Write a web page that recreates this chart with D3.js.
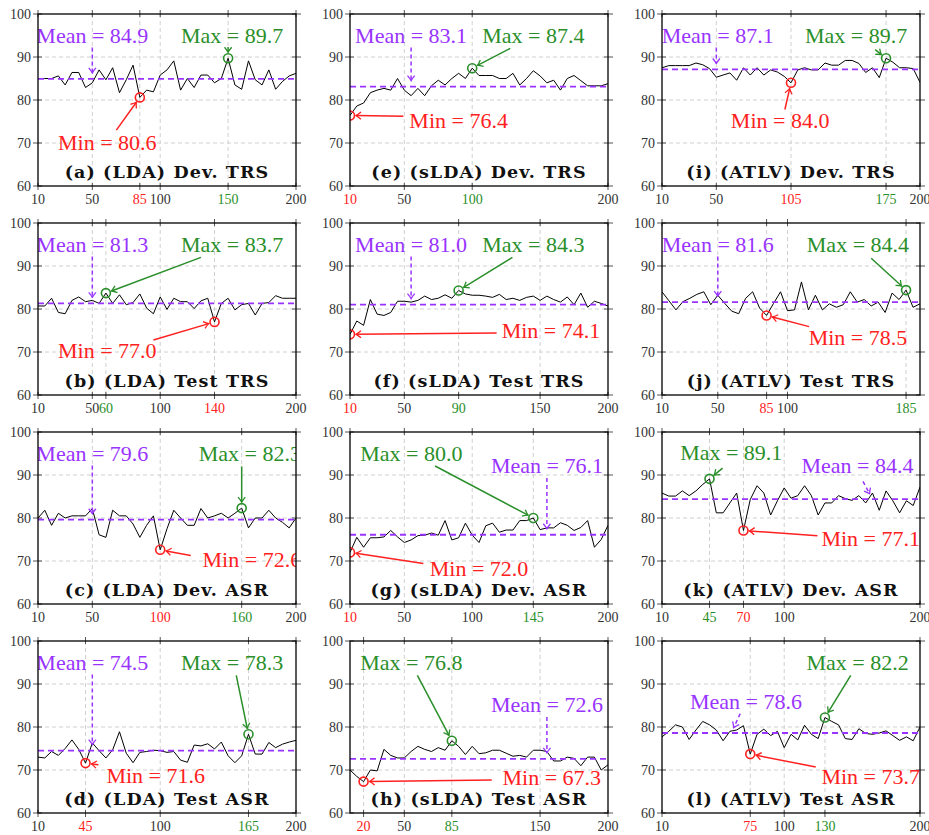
<!DOCTYPE html>
<html>
<head>
<meta charset="utf-8">
<script src="https://cdn.jsdelivr.net/npm/d3@7"></script>
<style>
body{margin:0;background:#fff}
text{font-family:"Liberation Serif",serif}
</style>
</head>
<body>
<svg id="chart" width="929" height="835"></svg>
<script>
// x positions (number of topics)
var epochs = [10,15,20,25,30,35,40,45,50,55,60,65,70,75,80,85,90,95,100,105,110,115,120,125,130,135,140,145,150,155,160,165,170,175,180,185,190,195,200]

var ldaDevTrs   = [85.0,85.0,85.0,85.6,83.5,86.4,86.4,82.9,84.0,87.0,84.7,87.5,81.7,84.7,88.1,80.6,82.3,81.9,85.8,87.0,89.1,82.3,85.0,82.9,85.8,85.8,84.0,85.0,89.7,83.5,82.5,89.1,84.7,83.5,87.0,82.5,84.3,85.6,86.2]
var ldaTestTrs  = [80.7,80.7,82.5,79.2,78.9,82.0,82.8,81.7,82.0,81.3,83.7,81.3,83.3,81.0,81.5,83.5,80.2,78.9,82.8,79.9,82.5,81.7,81.7,80.1,81.9,82.5,77.0,81.3,82.5,79.8,81.0,81.3,78.6,81.3,81.5,83.1,82.5,82.5,82.5]
var ldaDevAsr   = [80.0,81.8,78.3,81.1,80.0,80.5,80.5,80.5,82.2,76.1,75.5,81.8,80.5,80.5,78.6,75.5,78.3,80.5,72.6,77.5,81.8,80.0,78.3,78.3,82.2,80.0,80.5,81.1,80.0,81.1,82.3,77.7,80.0,80.0,81.8,80.0,79.0,77.7,80.0]
var ldaTestAsr  = [73.0,72.8,74.3,73.4,75.0,77.0,74.8,71.6,76.3,74.5,72.8,74.7,78.9,73.9,71.7,74.1,74.3,74.6,74.5,74.1,74.3,72.3,71.8,75.8,75.6,76.1,74.9,76.5,73.3,71.7,73.3,78.3,73.7,73.7,76.4,75.2,76.0,76.5,76.9]
var sldaDevTrs  = [76.4,78.6,79.3,81.7,82.3,82.7,82.3,85.0,82.3,81.0,82.7,81.0,83.3,84.6,83.5,85.0,86.2,85.0,87.4,85.7,85.7,85.7,85.0,85.0,86.2,83.5,85.0,86.8,85.6,84.0,84.6,82.3,85.0,85.7,84.5,83.3,83.3,83.3,83.8]
var sldaTestTrs = [74.1,77.2,76.2,82.2,78.8,78.5,79.2,81.8,81.8,81.6,82.0,83.0,82.2,82.5,83.3,82.5,84.3,83.5,83.2,83.2,83.0,82.7,83.4,82.2,82.5,82.0,82.7,83.0,82.0,83.0,82.2,81.6,82.8,81.0,83.7,80.4,81.8,81.3,80.7]
var sldaDevAsr  = [72.0,75.5,73.2,75.4,75.4,75.6,77.1,75.6,74.3,74.9,75.9,76.0,76.5,76.0,79.4,74.9,75.4,78.8,76.0,74.3,78.2,78.8,76.7,77.2,77.2,79.4,79.4,80.0,77.3,77.7,77.7,78.9,78.3,77.1,77.8,79.4,73.2,75.0,78.3]
var sldaTestAsr = [70.0,68.5,67.3,70.0,69.8,74.8,73.4,72.8,72.8,74.3,75.5,74.8,74.3,75.2,74.6,76.8,75.5,73.6,75.5,73.8,74.0,74.6,74.6,73.9,73.2,73.4,73.0,74.6,74.6,74.3,72.1,72.1,73.0,72.7,71.0,73.0,73.0,70.0,71.2]
var atlvDevTrs  = [87.5,88.0,88.0,88.0,88.0,88.6,88.2,87.3,85.3,85.8,86.3,84.6,87.5,85.8,87.5,85.8,87.0,86.5,85.5,84.0,87.0,87.5,87.0,87.0,88.6,88.1,88.1,89.2,89.2,88.5,86.4,87.5,85.2,89.7,88.8,87.5,87.5,87.3,84.1]
var atlvTestTrs = [84.0,81.9,79.8,81.7,82.5,83.4,84.0,81.0,83.2,81.3,79.5,78.9,82.5,84.0,80.2,78.5,81.3,84.0,79.6,79.8,86.3,79.8,83.2,79.8,81.2,80.4,81.0,84.0,81.6,82.2,80.7,81.6,79.2,83.7,82.2,84.4,80.4,81.2]
var atlvDevAsr  = [85.8,85.1,85.1,86.3,85.2,86.3,87.8,89.1,81.2,81.2,83.5,85.8,77.1,84.3,87.5,85.8,80.7,84.0,87.0,84.6,85.2,87.5,85.2,80.7,83.5,83.5,85.2,84.5,84.1,85.2,83.5,85.8,81.8,86.3,84.0,81.2,84.0,82.9,87.2]
var atlvTestAsr = [77.7,79.0,80.5,80.0,77.1,79.3,81.3,80.5,79.3,76.8,79.0,79.3,80.3,73.7,78.3,79.5,78.0,79.0,75.2,78.3,77.0,80.4,78.3,77.3,82.2,81.3,80.5,77.3,77.1,79.6,78.5,78.3,78.6,79.1,78.0,76.9,77.7,76.8,80.0]

var series = [ldaDevTrs, ldaTestTrs, ldaDevAsr, ldaTestAsr,
              sldaDevTrs, sldaTestTrs, sldaDevAsr, sldaTestAsr,
              atlvDevTrs, atlvTestTrs, atlvDevAsr, atlvTestAsr]

var titles = ['(a) (LDA) Dev. TRS','(b) (LDA) Test TRS','(c) (LDA) Dev. ASR','(d) (LDA) Test ASR',
              '(e) (sLDA) Dev. TRS','(f) (sLDA) Test TRS','(g) (sLDA) Dev. ASR','(h) (sLDA) Test ASR',
              '(i) (ATLV) Dev. TRS','(j) (ATLV) Test TRS','(k) (ATLV) Dev. ASR','(l) (ATLV) Test ASR']

var means     = [84.9, 81.3, 79.6, 74.5, 83.1, 81.0, 76.1, 72.6, 87.1, 81.6, 84.4, 78.6]
var minPoints = [[85,80.6],[140,77.0],[100,72.6],[45,71.6],[10,76.4],[10,74.1],[10,72.0],[20,67.3],[105,84.0],[85,78.5],[70,77.1],[75,73.7]]
var maxPoints = [[150,89.7],[60,83.7],[160,82.3],[165,78.3],[100,87.4],[90,84.3],[145,80.0],[85,76.8],[175,89.7],[185,84.4],[45,89.1],[130,82.2]]

var baseTicks = [[10,50,100,200],[10,50,100,200],[10,50,200],[10,100,200],
                 [50,200],[50,150,200],[50,100,200],[50,150,200],
                 [10,50,200],[10,50,100],[10,100,200],[10,100,200]]
var yTicks = [60,70,80,90,100]
var gridY = [70,80,90]

// annotation placement, in data units: label x, label baseline, arrow start x, y (+ target x for mean)
var meanNotes = [[50,93.2,50,92.2,50],[50,93.2,50,92.2,50],[50,93.3,50,92.2,50],[50,93.3,50,92.2,50],
                 [55,93.2,55,92.2,55],[55,93.2,55,92.2,55],[155,90.4,155,89.3,155],[155,83.5,155,82.3,155],
                 [51,93.2,50,92.2,50],[50,93.2,50,92.2,50],[154,90.4,158,88.5,165],[71.8,84.3,67.6,83.1,61]]
var maxNotes  = [[153,93.2,150,92.3],[153,93.2,130,92.0],[166,93.3,160,92.0],[153,93.3,156,92.0],
                 [145,93.2,128,92.0],[145,93.2,129.6,92.0],[55.2,93.3,72.7,92.1],[55.2,93.3,59.6,92.0],
                 [153,93.2,167,91.7],[150.5,93.2,160,91.8],[61,93.5,54.6,91.6],[154,93.3,149,92.0]]
var minNotes  = [[61,68.4,67.7,73.0],[61,68.5,95,72.8],[167.5,68.5,122.5,71.3],[96.7,67.0,54.5,71.2],
                 [90,73.4,49.3,76.2],[158,73.2,118,74.4],[105,66.6,64,69.4],[158.6,66.6,114.4,67.7],
                 [97,73.4,100.5,77.8],[150.5,71.65,115.5,75.9],[163.7,73.4,124.5,75.9],[163.7,66.8,123.2,70.7]]

var W = 258, H = 172
var colLeft = [38, 350, 662]
var rowTop = [14, 223, 432, 641]
var purple = '#9933ff', green = '#2a8f2a', red = '#ff2020'

var svg = d3.select('#chart')
var defs = svg.append('defs')

;[['mean',purple],['max',green],['min',red]].forEach(function(m){
  defs.append('marker').attr('id','head-'+m[0])
    .attr('markerUnits','userSpaceOnUse')
    .attr('viewBox','-7 -5 8 10').attr('markerWidth',8).attr('markerHeight',10)
    .attr('refX',0).attr('refY',0).attr('orient','auto')
    .append('path').attr('d','M-5,-3.6 Q-1.8,-0.9 0,0 Q-1.8,0.9 -5,3.6')
    .attr('fill','none').attr('stroke',m[1]).attr('stroke-width',1.3)
})

function arrow(g, x0, y0, x1, y1, gap, color, kind, dash){
  var dx = x1-x0, dy = y1-y0, len = Math.sqrt(dx*dx+dy*dy)
  var ex = x1 - dx/len*gap, ey = y1 - dy/len*gap
  g.append('line')
    .attr('x1',x0).attr('y1',y0).attr('x2',ex).attr('y2',ey)
    .attr('stroke',color).attr('stroke-width',1.5)
    .attr('stroke-dasharray',dash ? '4,3' : null)
    .attr('marker-end','url(#head-'+kind+')')
}

series.forEach(function(vals, p){
  var col = Math.floor(p/4), row = p%4
  var g = svg.append('g').attr('transform','translate('+colLeft[col]+','+rowTop[row]+')')
  var xs = epochs.slice(0, vals.length)
  var x = d3.scaleLinear().domain([10, xs[xs.length-1]]).range([0, W])
  var y = d3.scaleLinear().domain([60, 100]).range([H, 0])
  var mn = minPoints[p], mx = maxPoints[p]
  var ticks = baseTicks[p].concat([mn[0], mx[0]]).sort(d3.ascending)

  defs.append('clipPath').attr('id','clip'+p)
    .append('rect').attr('width',W).attr('height',H)

  // grid
  g.selectAll('line.gy').data(gridY).enter().append('line').attr('class','gy')
    .attr('x1',0).attr('x2',W).attr('y1',function(d){return y(d)}).attr('y2',function(d){return y(d)})
    .attr('stroke','#d0d0d0').attr('stroke-dasharray','4,3')
  g.selectAll('line.gx').data(ticks.filter(function(t){return x(t) > 1 && x(t) < W-1})).enter()
    .append('line').attr('class','gx')
    .attr('x1',function(d){return x(d)}).attr('x2',function(d){return x(d)})
    .attr('y1',0).attr('y2',H)
    .attr('stroke','#d0d0d0').attr('stroke-dasharray','4,3')

  // tick marks
  ticks.forEach(function(t){
    [[-4,3],[H-3,H+4]].forEach(function(r){
      g.append('line').attr('x1',x(t)).attr('x2',x(t)).attr('y1',r[0]).attr('y2',r[1])
        .attr('stroke','#555')
    })
  })
  yTicks.forEach(function(t){
    [[-5,4],[W-4,W+5]].forEach(function(r){
      g.append('line').attr('y1',y(t)).attr('y2',y(t)).attr('x1',r[0]).attr('x2',r[1])
        .attr('stroke','#555')
    })
  })

  // tick labels
  g.selectAll('text.xt').data(ticks).enter().append('text').attr('class','xt')
    .attr('x',function(d){return x(d)}).attr('y',H+18)
    .attr('text-anchor','middle').attr('font-size',14)
    .attr('fill',function(d){return d == mn[0] ? red : d == mx[0] ? green : '#333'})
    .text(function(d){return d})
  g.selectAll('text.yt').data(yTicks).enter().append('text').attr('class','yt')
    .attr('x',-7).attr('y',function(d){return y(d)+4.5})
    .attr('text-anchor','end').attr('font-size',14).attr('fill','#333')
    .text(function(d){return d})

  var plot = g.append('g').attr('clip-path','url(#clip'+p+')')

  var line = d3.line().x(function(d,i){return x(xs[i])}).y(function(d){return y(d)})
  plot.append('path').datum(vals).attr('d',line)
    .attr('fill','none').attr('stroke','#000').attr('stroke-width',1)

  plot.append('line').attr('x1',0).attr('x2',W).attr('y1',y(means[p])).attr('y2',y(means[p]))
    .attr('stroke',purple).attr('stroke-width',1.8).attr('stroke-dasharray','6,4')

  plot.append('circle').attr('cx',x(mn[0])).attr('cy',y(mn[1])).attr('r',4.5)
    .attr('fill','none').attr('stroke',red).attr('stroke-width',1.6)
  plot.append('circle').attr('cx',x(mx[0])).attr('cy',y(mx[1])).attr('r',4.5)
    .attr('fill','none').attr('stroke',green).attr('stroke-width',1.6)

  // annotations
  var a = meanNotes[p]
  arrow(plot, x(a[2]), y(a[3]), x(a[4]), y(means[p]), 6, purple, 'mean', true)
  plot.append('text').attr('x',x(a[0])).attr('y',y(a[1])).attr('text-anchor','middle')
    .attr('font-size',22).attr('fill',purple).text('Mean = '+means[p].toFixed(1))

  a = maxNotes[p]
  arrow(plot, x(a[2]), y(a[3]), x(mx[0]), y(mx[1]), 6, green, 'max', false)
  plot.append('text').attr('x',x(a[0])).attr('y',y(a[1])).attr('text-anchor','middle')
    .attr('font-size',22).attr('fill',green).text('Max = '+mx[1].toFixed(1))

  a = minNotes[p]
  arrow(plot, x(a[2]), y(a[3]), x(mn[0]), y(mn[1]), 6, red, 'min', false)
  plot.append('text').attr('x',x(a[0])).attr('y',y(a[1])).attr('text-anchor','middle')
    .attr('font-size',22).attr('fill',red).text('Min = '+mn[1].toFixed(1))

  // title
  g.append('text').attr('x',W/2).attr('y',H-8).attr('text-anchor','middle')
    .style('font-family','"DejaVu Serif",serif').attr('font-weight','bold')
    .attr('font-size',17.5).attr('letter-spacing',1.1).attr('fill','#111').text(titles[p])

  g.append('rect').attr('width',W).attr('height',H)
    .attr('fill','none').attr('stroke','#000').attr('stroke-width',1.3)
})
</script>
</body>
</html>
